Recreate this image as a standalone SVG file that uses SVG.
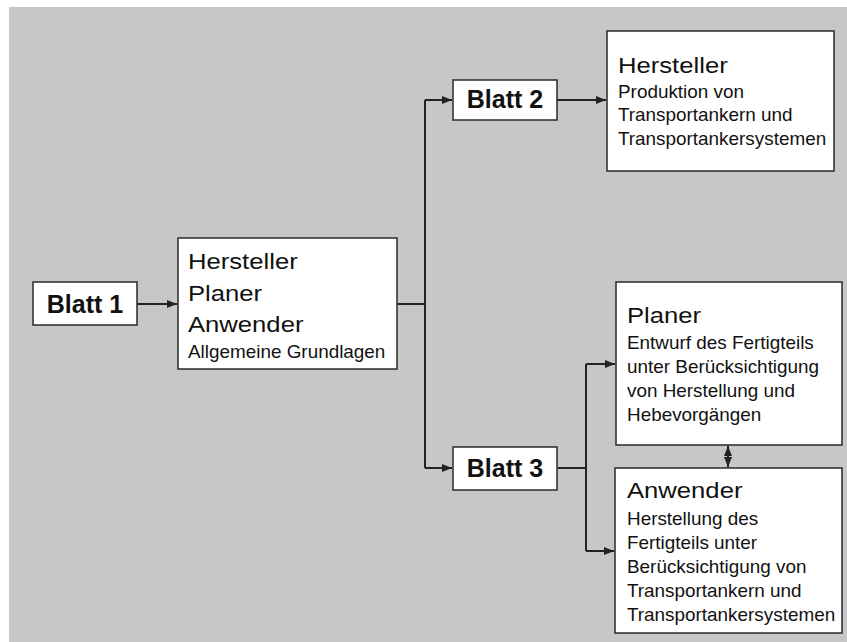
<svg xmlns="http://www.w3.org/2000/svg" width="847" height="642" viewBox="0 0 847 642">
<style>
.box{fill:#fff;stroke:#2a2a2a;stroke-width:1.5}
.ln{fill:none;stroke:#222;stroke-width:2}
.t{font-family:"Liberation Sans",Arial,sans-serif;fill:#111}
.b{font-family:"Liberation Sans",Arial,sans-serif;font-weight:bold;font-size:25px;fill:#111;text-anchor:middle}
.L{font-size:22.5px}
.s{font-size:18px}
</style>
<defs>
<marker id="ah" viewBox="0 0 10 8" refX="10" refY="4" markerWidth="10" markerHeight="8" markerUnits="userSpaceOnUse" orient="auto-start-reverse">
<path d="M0,0 L10,4 L0,8 Z" fill="#222"/>
</marker>
</defs>
<rect x="9" y="7" width="838" height="635" fill="#c6c7c9"/>
<g id="connectors">
<path class="ln" d="M137,304 H177" marker-end="url(#ah)"/>
<path class="ln" d="M397,304 H425"/>
<path class="ln" d="M425,100 V468"/>
<path class="ln" d="M425,100 H452" marker-end="url(#ah)"/>
<path class="ln" d="M425,468 H452" marker-end="url(#ah)"/>
<path class="ln" d="M557,100 H606" marker-end="url(#ah)"/>
<path class="ln" d="M558,468 H586"/>
<path class="ln" d="M586,364 V551"/>
<path class="ln" d="M586,364 H615" marker-end="url(#ah)"/>
<path class="ln" d="M586,551 H614" marker-end="url(#ah)"/>
<path class="ln" d="M728,446 V467" marker-start="url(#ah)" marker-end="url(#ah)"/>
</g>
<g id="blatt1">
<rect class="box" x="33" y="282" width="104" height="43"/>
<text class="b" x="85" y="313">Blatt 1</text>
</g>
<g id="allgemein">
<rect class="box" x="178" y="238" width="219" height="131"/>
<text class="t L" transform="translate(188,269) scale(1.14,1)">Hersteller</text>
<text class="t L" transform="translate(188,301) scale(1.14,1)">Planer</text>
<text class="t L" transform="translate(188,332) scale(1.14,1)">Anwender</text>
<text class="t s" transform="translate(188,358) scale(1.05,1)">Allgemeine Grundlagen</text>
</g>
<g id="blatt2">
<rect class="box" x="453" y="80" width="104" height="40"/>
<text class="b" x="505" y="108">Blatt 2</text>
</g>
<g id="hersteller">
<rect class="box" x="607" y="31" width="227" height="140"/>
<text class="t L" transform="translate(618,73) scale(1.14,1)">Hersteller</text>
<text class="t s" transform="translate(618,98) scale(1.05,1)">Produktion von</text>
<text class="t s" transform="translate(618,121) scale(1.05,1)">Transportankern und</text>
<text class="t s" transform="translate(618,145) scale(1.05,1)">Transportankersystemen</text>
</g>
<g id="blatt3">
<rect class="box" x="453" y="447" width="104" height="43"/>
<text class="b" x="505" y="477">Blatt 3</text>
</g>
<g id="planer">
<rect class="box" x="616" y="282" width="226" height="163"/>
<text class="t L" transform="translate(627,323) scale(1.14,1)">Planer</text>
<text class="t s" transform="translate(627,349) scale(1.05,1)">Entwurf des Fertigteils</text>
<text class="t s" transform="translate(627,373) scale(1.05,1)">unter Berücksichtigung</text>
<text class="t s" transform="translate(627,397) scale(1.05,1)">von Herstellung und</text>
<text class="t s" transform="translate(627,421) scale(1.05,1)">Hebevorgängen</text>
</g>
<g id="anwender">
<rect class="box" x="615" y="468" width="227" height="165"/>
<text class="t L" transform="translate(627,498) scale(1.14,1)">Anwender</text>
<text class="t s" transform="translate(627,525) scale(1.05,1)">Herstellung des</text>
<text class="t s" transform="translate(627,549) scale(1.05,1)">Fertigteils unter</text>
<text class="t s" transform="translate(627,573) scale(1.05,1)">Berücksichtigung von</text>
<text class="t s" transform="translate(627,597) scale(1.05,1)">Transportankern und</text>
<text class="t s" transform="translate(627,621) scale(1.05,1)">Transportankersystemen</text>
</g>
</svg>
